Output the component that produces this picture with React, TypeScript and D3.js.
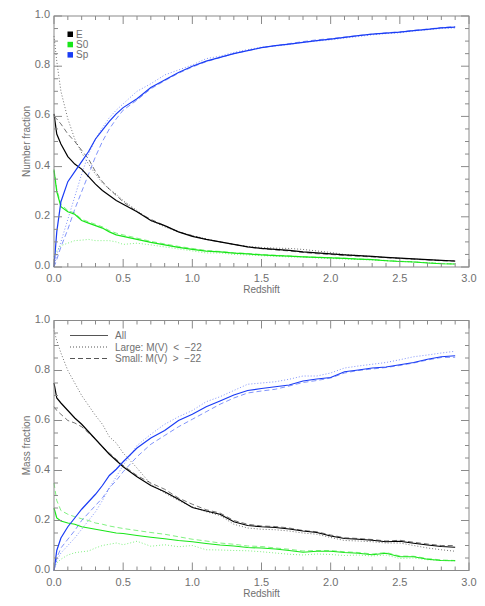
import React from "react";
import * as d3 from "d3";

const Z = [0, 0.02, 0.05, 0.1, 0.15, 0.2, 0.25, 0.3, 0.35, 0.4, 0.45, 0.5, 0.6, 0.7, 0.8, 0.9, 1.0, 1.1, 1.2, 1.3, 1.4, 1.5, 1.6, 1.7, 1.8, 1.9, 2.0, 2.1, 2.2, 2.3, 2.4, 2.5, 2.6, 2.7, 2.8, 2.9];

// Number fraction (top)
const numE_all = [0.61, 0.53, 0.49, 0.44, 0.41, 0.39, 0.36, 0.33, 0.305, 0.285, 0.265, 0.25, 0.22, 0.185, 0.165, 0.14, 0.122, 0.11, 0.1, 0.09, 0.08, 0.074, 0.07, 0.066, 0.06, 0.056, 0.052, 0.048, 0.045, 0.042, 0.038, 0.035, 0.032, 0.029, 0.026, 0.024];
const numE_large = [0.92, 0.82, 0.7, 0.59, 0.51, 0.455, 0.41, 0.37, 0.335, 0.31, 0.29, 0.265, 0.225, 0.185, 0.16, 0.14, 0.125, 0.112, 0.1, 0.09, 0.082, 0.078, 0.075, 0.074, 0.07, 0.064, 0.058, 0.05, 0.046, 0.042, 0.038, 0.035, 0.032, 0.029, 0.026, 0.025];
const numE_small = [0.6, 0.59, 0.57, 0.53, 0.5, 0.465, 0.43, 0.38, 0.34, 0.31, 0.285, 0.26, 0.22, 0.19, 0.165, 0.14, 0.125, 0.11, 0.1, 0.09, 0.08, 0.073, 0.068, 0.064, 0.058, 0.053, 0.05, 0.046, 0.043, 0.04, 0.037, 0.034, 0.031, 0.028, 0.025, 0.023];
const numS0_all = [0.385, 0.3, 0.24, 0.22, 0.21, 0.185, 0.175, 0.165, 0.155, 0.14, 0.128, 0.122, 0.11, 0.098, 0.088, 0.078, 0.07, 0.063, 0.06, 0.055, 0.052, 0.048, 0.045, 0.043, 0.04, 0.038, 0.036, 0.034, 0.031, 0.029, 0.025, 0.022, 0.02, 0.016, 0.013, 0.012];
const numS0_large = [0.04, 0.065, 0.085, 0.095, 0.105, 0.107, 0.11, 0.105, 0.105, 0.105, 0.1, 0.09, 0.095, 0.088, 0.08, 0.072, 0.064, 0.056, 0.056, 0.05, 0.048, 0.045, 0.043, 0.04, 0.04, 0.036, 0.034, 0.032, 0.03, 0.028, 0.025, 0.022, 0.02, 0.017, 0.014, 0.012];
const numS0_small = [0.39, 0.31, 0.25, 0.225, 0.215, 0.19, 0.18, 0.17, 0.16, 0.145, 0.135, 0.128, 0.115, 0.102, 0.092, 0.082, 0.074, 0.066, 0.062, 0.057, 0.054, 0.05, 0.047, 0.044, 0.041, 0.039, 0.037, 0.035, 0.032, 0.03, 0.026, 0.023, 0.021, 0.017, 0.014, 0.012];
const numSp_all = [0.0, 0.14, 0.26, 0.34, 0.38, 0.42, 0.46, 0.51, 0.545, 0.58, 0.61, 0.635, 0.67, 0.715, 0.745, 0.775, 0.8, 0.82, 0.835, 0.85, 0.862, 0.874, 0.882, 0.888, 0.895, 0.902, 0.908, 0.915, 0.922, 0.928, 0.932, 0.936, 0.942, 0.947, 0.953, 0.956];
const numSp_large = [0.0, 0.05, 0.1, 0.19, 0.28, 0.37, 0.45, 0.51, 0.555, 0.595, 0.625, 0.65, 0.7, 0.73, 0.765, 0.785, 0.805, 0.83, 0.84, 0.855, 0.866, 0.876, 0.88, 0.886, 0.895, 0.9, 0.905, 0.912, 0.918, 0.925, 0.93, 0.933, 0.94, 0.945, 0.95, 0.952];
const numSp_small = [0.0, 0.03, 0.08, 0.15, 0.23, 0.3, 0.37, 0.44, 0.5, 0.55, 0.59, 0.625, 0.665, 0.71, 0.742, 0.772, 0.797, 0.818, 0.834, 0.85, 0.862, 0.873, 0.882, 0.89, 0.898, 0.905, 0.91, 0.916, 0.922, 0.928, 0.933, 0.937, 0.943, 0.948, 0.954, 0.958];

// Mass fraction (bottom)
const massE_all = [0.75, 0.69, 0.67, 0.64, 0.61, 0.585, 0.555, 0.525, 0.495, 0.465, 0.44, 0.415, 0.375, 0.34, 0.315, 0.285, 0.252, 0.238, 0.225, 0.195, 0.18, 0.175, 0.172, 0.166, 0.158, 0.152, 0.138, 0.128, 0.125, 0.121, 0.115, 0.117, 0.109, 0.102, 0.096, 0.093];
const massE_large = [0.96, 0.92, 0.87, 0.8, 0.75, 0.7, 0.66, 0.62, 0.585, 0.535, 0.51, 0.47, 0.41, 0.345, 0.31, 0.28, 0.255, 0.235, 0.22, 0.185, 0.17, 0.165, 0.163, 0.158, 0.15, 0.145, 0.132, 0.12, 0.118, 0.115, 0.11, 0.11, 0.1, 0.09, 0.083, 0.077];
const massE_small = [0.655, 0.64, 0.625, 0.6, 0.59, 0.575, 0.55, 0.525, 0.495, 0.47, 0.445, 0.42, 0.38, 0.35, 0.325, 0.29, 0.265, 0.243, 0.23, 0.2, 0.185, 0.178, 0.176, 0.17, 0.16, 0.155, 0.142, 0.131, 0.128, 0.124, 0.118, 0.121, 0.113, 0.106, 0.1, 0.1];
const massS0_all = [0.25, 0.21, 0.198, 0.19, 0.185, 0.175, 0.17, 0.165, 0.16, 0.155, 0.15, 0.148, 0.14, 0.133, 0.127, 0.12, 0.115, 0.108, 0.102, 0.098, 0.092, 0.09, 0.086, 0.08, 0.073, 0.077, 0.077, 0.072, 0.069, 0.063, 0.069, 0.055, 0.055, 0.045, 0.04, 0.039];
const massS0_large = [0.01, 0.03, 0.045, 0.062, 0.071, 0.075, 0.078, 0.09, 0.1, 0.105, 0.11, 0.103, 0.117, 0.097, 0.103, 0.095, 0.1, 0.083, 0.082, 0.08, 0.079, 0.075, 0.07, 0.065, 0.062, 0.066, 0.064, 0.06, 0.062, 0.058, 0.062, 0.048, 0.05, 0.043, 0.04, 0.039];
const massS0_small = [0.35, 0.28, 0.24, 0.225, 0.215, 0.207, 0.2, 0.19, 0.185, 0.178, 0.173, 0.168, 0.16, 0.152, 0.145, 0.135, 0.125, 0.118, 0.11, 0.105, 0.098, 0.096, 0.09, 0.085, 0.078, 0.08, 0.08, 0.075, 0.072, 0.066, 0.072, 0.058, 0.057, 0.048, 0.042, 0.04];
const massSp_all = [0.0, 0.08, 0.13, 0.175, 0.21, 0.245, 0.275, 0.305, 0.34, 0.38, 0.405, 0.435, 0.49, 0.53, 0.56, 0.6, 0.625, 0.655, 0.678, 0.702, 0.72, 0.728, 0.735, 0.742, 0.758, 0.766, 0.772, 0.795, 0.802, 0.81, 0.814, 0.823, 0.832, 0.845, 0.855, 0.859];
const massSp_large = [0.0, 0.04, 0.07, 0.1, 0.13, 0.165, 0.2, 0.235, 0.28, 0.33, 0.375, 0.42, 0.5, 0.545, 0.585, 0.615, 0.64, 0.675, 0.695, 0.72, 0.745, 0.75, 0.755, 0.765, 0.778, 0.778, 0.79, 0.81, 0.818, 0.825, 0.832, 0.843, 0.855, 0.862, 0.87, 0.877];
const massSp_small = [0.0, 0.05, 0.09, 0.125, 0.16, 0.2, 0.23, 0.26, 0.29, 0.33, 0.36, 0.395, 0.455, 0.505, 0.54, 0.575, 0.605, 0.635, 0.665, 0.69, 0.71, 0.718, 0.725, 0.738, 0.752, 0.76, 0.77, 0.79, 0.8, 0.806, 0.812, 0.82, 0.83, 0.842, 0.852, 0.853];

const X_TICKS = [0, 0.5, 1.0, 1.5, 2.0, 2.5, 3.0];
const Y_TICKS = [0, 0.2, 0.4, 0.6, 0.8, 1.0];
const LEGEND_TYPES = ["E", "S0", "Sp"];
const LEGEND_SAMPLES = ["All", "Large: M(V)  <  \u221222", "Small: M(V)  >  \u221222"];

const COL = { E: "#000000", S0: "#19e619", Sp: "#1a3cf5" };
const AXIS = "#8a8a8a";
const TXT = "#707070";
const FONT = "'Liberation Sans', Arial, Helvetica, sans-serif";

const L = 54, R = 469;
const xScale = d3.scaleLinear().domain([0, 3]).range([L, R]);

type Series = { vals: number[]; color: string; kind: "all" | "large" | "small" };

function Panel({ top, bottom, ylabel, series, legend }: { top: number; bottom: number; ylabel: string; series: Series[]; legend: React.ReactNode }) {
  const y = d3.scaleLinear().domain([0, 1]).range([bottom, top]);
  const minorX = d3.range(0, 3.0001, 0.1);
  const minorY = d3.range(0, 1.0001, 0.05);
  const line = (vals: number[]) =>
    d3.line<number>().x((_, i) => xScale(Z[i])).y((v) => y(v))(vals) || "";
  return (
    <g>
      {series.map((s, i) => (
        <path
          key={i}
          d={line(s.vals)}
          fill="none"
          stroke={s.color}
          strokeWidth={s.kind === "all" ? 1.2 : 1}
          strokeOpacity={s.kind === "all" ? 1 : 0.55}
          strokeDasharray={s.kind === "large" ? "1,2" : s.kind === "small" ? "5,3" : undefined}
        />
      ))}
      <rect x={L} y={top} width={R - L} height={bottom - top} fill="none" stroke={AXIS} strokeWidth={1} />
      {minorX.map((v, i) => {
        const major = Math.abs(v * 2 - Math.round(v * 2)) < 1e-6;
        const len = major ? 8 : 4;
        const xx = xScale(v);
        return (
          <g key={"x" + i}>
            <line x1={xx} x2={xx} y1={bottom} y2={bottom - len} stroke={AXIS} />
            <line x1={xx} x2={xx} y1={top} y2={top + len} stroke={AXIS} />
          </g>
        );
      })}
      {minorY.map((v, i) => {
        const major = Math.abs(v * 5 - Math.round(v * 5)) < 1e-6;
        const len = major ? 8 : 4;
        const yy = y(v);
        return (
          <g key={"y" + i}>
            <line x1={L} x2={L + len} y1={yy} y2={yy} stroke={AXIS} />
            <line x1={R} x2={R - len} y1={yy} y2={yy} stroke={AXIS} />
          </g>
        );
      })}
      {X_TICKS.map((v) => (
        <text key={"xl" + v} x={xScale(v)} y={bottom + 15} textAnchor="middle" fontSize={11} fill={TXT} fontFamily={FONT}>
          {d3.format(".1f")(v)}
        </text>
      ))}
      {Y_TICKS.map((v) => (
        <text key={"yl" + v} x={L - 4} y={y(v) + 2} textAnchor="end" fontSize={11} fill={TXT} fontFamily={FONT}>
          {d3.format(".1f")(v)}
        </text>
      ))}
      <text x={(L + R) / 2} y={bottom + 26} textAnchor="middle" fontSize={10} fill={TXT} fontFamily={FONT}>
        Redshift
      </text>
      <text
        transform={`translate(30,${(top + bottom) / 2}) rotate(-90)`}
        textAnchor="middle"
        fontSize={10}
        fill={TXT}
        fontFamily={FONT}
      >
        {ylabel}
      </text>
      {legend}
    </g>
  );
}

export default function App() {
  const topSeries: Series[] = [
    { vals: numE_large, color: COL.E, kind: "large" },
    { vals: numE_small, color: COL.E, kind: "small" },
    { vals: numS0_large, color: COL.S0, kind: "large" },
    { vals: numS0_small, color: COL.S0, kind: "small" },
    { vals: numSp_large, color: COL.Sp, kind: "large" },
    { vals: numSp_small, color: COL.Sp, kind: "small" },
    { vals: numE_all, color: COL.E, kind: "all" },
    { vals: numS0_all, color: COL.S0, kind: "all" },
    { vals: numSp_all, color: COL.Sp, kind: "all" },
  ];
  const botSeries: Series[] = [
    { vals: massE_large, color: COL.E, kind: "large" },
    { vals: massE_small, color: COL.E, kind: "small" },
    { vals: massS0_large, color: COL.S0, kind: "large" },
    { vals: massS0_small, color: COL.S0, kind: "small" },
    { vals: massSp_large, color: COL.Sp, kind: "large" },
    { vals: massSp_small, color: COL.Sp, kind: "small" },
    { vals: massE_all, color: COL.E, kind: "all" },
    { vals: massS0_all, color: COL.S0, kind: "all" },
    { vals: massSp_all, color: COL.Sp, kind: "all" },
  ];
  const typeCols = [COL.E, COL.S0, COL.Sp];
  const topLegend = (
    <g>
      {LEGEND_TYPES.map((t, i) => (
        <g key={t}>
          <rect x={67.5} y={31.5 + i * 10.3} width={5.5} height={5.5} fill={typeCols[i]} />
          <text x={76} y={37.5 + i * 10.3} fontSize={10} fill={TXT} fontFamily={FONT}>
            {t}
          </text>
        </g>
      ))}
    </g>
  );
  const dashes = [undefined, "1,2", "5,3"];
  const botLegend = (
    <g>
      {LEGEND_SAMPLES.map((t, i) => (
        <g key={t}>
          <line x1={70} x2={108} y1={335.5 + i * 11.5} y2={335.5 + i * 11.5} stroke="#555" strokeWidth={1} strokeDasharray={dashes[i]} />
          <text x={115} y={339 + i * 11.5} fontSize={10} fill={TXT} fontFamily={FONT} style={{ whiteSpace: "pre" }}>
            {t}
          </text>
        </g>
      ))}
    </g>
  );
  return (
    <svg width={485} height={606} style={{ position: "absolute", left: 0, top: 0, background: "#fff" }}>
      <rect width={485} height={606} fill="#fff" />
      <Panel top={16} bottom={267} ylabel="Number fraction" series={topSeries} legend={topLegend} />
      <Panel top={320.5} bottom={570.5} ylabel="Mass fraction" series={botSeries} legend={botLegend} />
    </svg>
  );
}
